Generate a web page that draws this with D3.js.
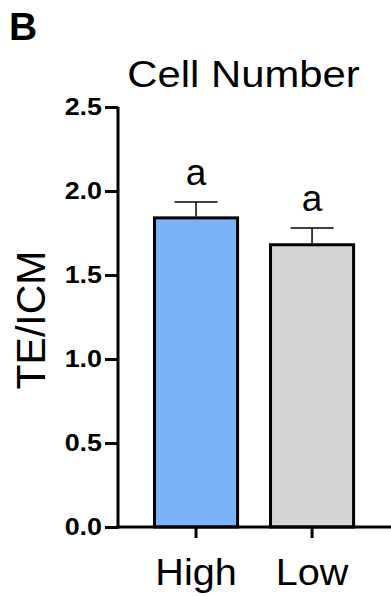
<!DOCTYPE html>
<html>
<head>
<meta charset="utf-8">
<script src="https://cdn.jsdelivr.net/npm/d3@7"></script>
<style>
  body { margin: 0; background: #fff; }
  svg { display: block; font-family: Arial, "Liberation Sans", Helvetica, sans-serif; }
</style>
</head>
<body>
<div id="chart"></div>
<script>
// data
const categories = ["High", "Low"];
const means = [1.84, 1.68];
const errors = [0.095, 0.10];
const letters = ["a", "a"];
const barColors = ["#7ab4f6", "#d4d4d4"];
const yTicks = [0, 0.5, 1.0, 1.5, 2.0, 2.5];

const width = 391, height = 596;

const svg = d3.select('#chart').append('svg')
    .attr('width', width)
    .attr('height', height);

// the original figure's text is a bit wider than Arial, stretch it sideways
function stretch(sel, k) {
    sel.each(function() {
        const w = this.getComputedTextLength();
        d3.select(this)
            .attr('textLength', w * k)
            .attr('lengthAdjust', 'spacingAndGlyphs');
    });
}

// scales
const y = d3.scaleLinear().domain([0, 2.5]).range([527, 107]);
const x = d3.scaleBand().domain(categories)
    .range([138.5, 369.6])
    .paddingInner(0.284)
    .paddingOuter(0.138);

// panel letter + title
svg.append('text')
    .attr('x', 9).attr('y', 40)
    .attr('font-size', 39).attr('font-weight', 'bold')
    .text('B');

svg.append('text')
    .attr('x', 243.5).attr('y', 87)
    .attr('text-anchor', 'middle')
    .attr('font-size', 37)
    .text('Cell Number')
    .call(stretch, 1.13);

// bars
svg.append('g').selectAll('rect')
    .data(categories)
    .join('rect')
    .attr('x', d => x(d))
    .attr('y', (d, i) => y(means[i]))
    .attr('width', x.bandwidth())
    .attr('height', (d, i) => y(0) - y(means[i]))
    .attr('fill', (d, i) => barColors[i])
    .attr('stroke', '#000')
    .attr('stroke-width', 3);

// error bars (upper only)
const err = svg.append('g').attr('stroke', '#000').attr('stroke-width', 1.5);
categories.forEach((c, i) => {
    const cx = x(c) + x.bandwidth() / 2;
    err.append('line')
        .attr('x1', cx).attr('x2', cx)
        .attr('y1', y(means[i]) - 1.5).attr('y2', y(means[i] + errors[i]));
    err.append('line')
        .attr('x1', cx - 21.5).attr('x2', cx + 21.5)
        .attr('y1', y(means[i] + errors[i])).attr('y2', y(means[i] + errors[i]));
});

// significance letters
svg.append('g').selectAll('text')
    .data(categories)
    .join('text')
    .attr('x', d => x(d) + x.bandwidth() / 2)
    .attr('y', (d, i) => y(means[i] + errors[i]) - 17)
    .attr('text-anchor', 'middle')
    .attr('font-size', 37)
    .text((d, i) => letters[i]);

// y axis
const yAxis = svg.append('g')
    .attr('transform', 'translate(118,0)')
    .call(d3.axisLeft(y).tickValues(yTicks).tickFormat(d3.format('.1f')).tickSize(13).tickPadding(3));
yAxis.select('.domain').attr('stroke-width', 3).attr('d', `M0,${y(2.5)}V${y(0) + 1.5}`);
yAxis.selectAll('.tick line').attr('stroke-width', 3);
yAxis.selectAll('.tick text')
    .attr('font-size', 24).attr('font-weight', 'bold')
    .attr('font-family', 'Arial, "Liberation Sans", sans-serif')
    .attr('fill', '#000')
    .call(stretch, 1.12);

// x axis
const xAxis = svg.append('g')
    .attr('transform', `translate(0,${y(0)})`)
    .call(d3.axisBottom(x).tickSize(11).tickPadding(20.5));
xAxis.select('.domain').attr('stroke-width', 3).attr('d', `M116.5,0H391`);
xAxis.selectAll('.tick line').attr('stroke-width', 3);
xAxis.selectAll('.tick text')
    .attr('font-size', 37)
    .attr('font-family', 'Arial, "Liberation Sans", sans-serif')
    .attr('fill', '#000')
    .call(stretch, 1.07);

// y axis title
svg.append('text')
    .attr('transform', `translate(45,${(y(0) + y(2.5)) / 2 + 3}) rotate(-90)`)
    .attr('text-anchor', 'middle')
    .attr('font-size', 41)
    .text('TE/ICM');
</script>
</body>
</html>
